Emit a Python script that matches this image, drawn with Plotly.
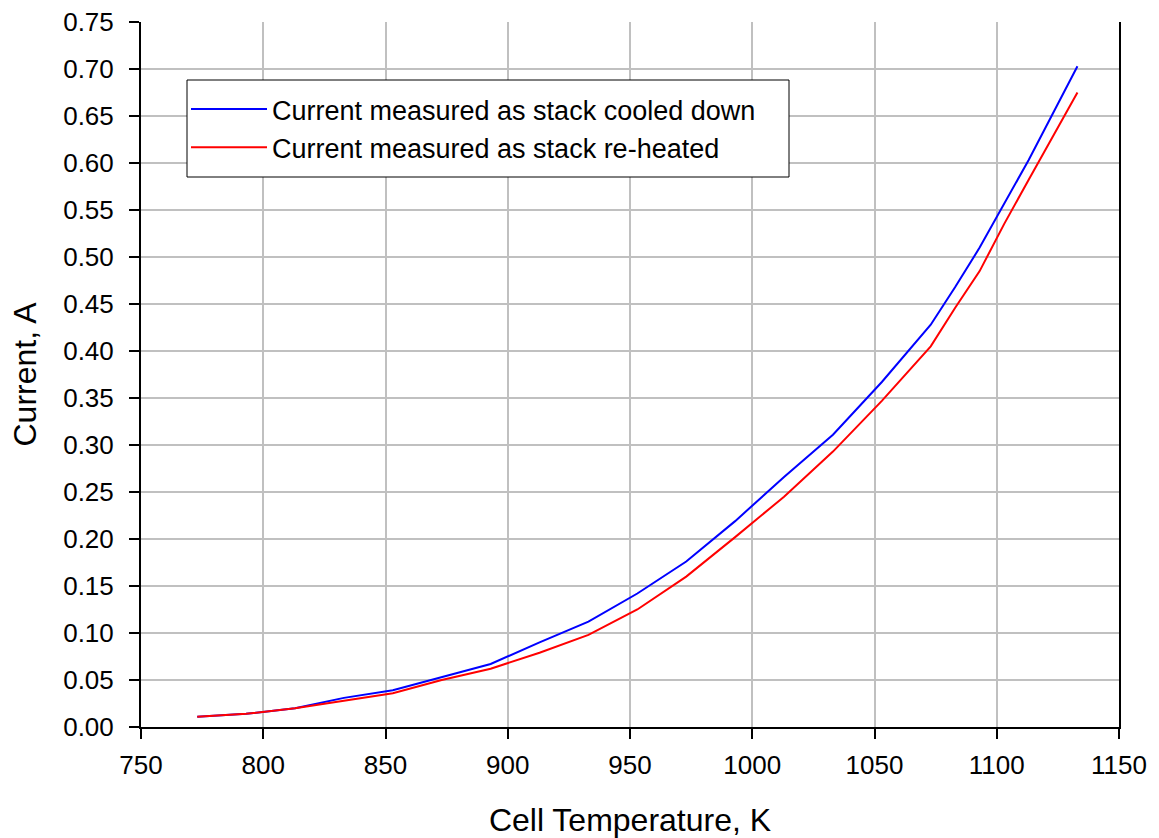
import plotly.graph_objects as go

temps = [773, 793, 813, 833, 853, 873, 893, 913, 933, 953, 973, 993, 1013, 1033,
         1053, 1073, 1083, 1093, 1103, 1113, 1133]
cooled = [0.011, 0.014, 0.020, 0.031, 0.039, 0.053, 0.067, 0.090, 0.112, 0.142,
          0.176, 0.219, 0.266, 0.311, 0.367, 0.428, 0.468, 0.510, 0.556, 0.603, 0.703]
reheated = [0.011, 0.014, 0.020, 0.028, 0.036, 0.050, 0.062, 0.079, 0.098, 0.125,
            0.160, 0.202, 0.245, 0.293, 0.347, 0.405, 0.446, 0.485, 0.535, 0.582, 0.675]

font = "Liberation Sans, Arial, sans-serif"
fig = go.Figure()
fig.add_trace(go.Scatter(x=temps, y=cooled, mode="lines", line=dict(color="#0000ff", width=2),
                         name="Current measured as stack cooled down"))
fig.add_trace(go.Scatter(x=temps, y=reheated, mode="lines", line=dict(color="#ff0000", width=2),
                         name="Current measured as stack re-heated"))

# legend frame (white box with thin black border, hides gridlines behind)
fig.add_shape(type="rect", xref="paper", yref="paper",
              x0=(187 - 141) / 978, x1=(789 - 141) / 978,
              y0=(727 - 177) / 705, y1=(727 - 80) / 705,
              line=dict(color="black", width=1), fillcolor="white", layer="above")

fig.update_layout(
    width=1159, height=838,
    margin=dict(l=141, r=40, t=22, b=111),
    paper_bgcolor="white", plot_bgcolor="white",
    font=dict(family=font, size=26, color="black"),
    showlegend=True,
    legend=dict(x=(186 - 141) / 978, y=(727 - 85) / 705, xanchor="left", yanchor="top",
                borderwidth=0, bgcolor="rgba(0,0,0,0)",
                font=dict(size=27), itemwidth=76,
                tracegroupgap=0),
)
fig.update_xaxes(range=[750, 1150], dtick=50, tick0=750,
                 showgrid=True, gridcolor="#c0c0c0", gridwidth=2,
                 showline=True, linecolor="black", linewidth=2, mirror=False,
                 ticks="outside", ticklen=10, tickwidth=2, tickcolor="black",
                 ticklabelstandoff=4,
                 zeroline=False, automargin=False,
                 title=dict(text="Cell Temperature, K", font=dict(size=32), standoff=30))
fig.update_yaxes(range=[0, 0.75], dtick=0.05, tickformat=".2f",
                 showgrid=True, gridcolor="#c0c0c0", gridwidth=2,
                 showline=True, linecolor="black", linewidth=2, mirror=True,
                 ticks="outside", ticklen=10, tickwidth=2, tickcolor="black",
                 ticklabelstandoff=10,
                 zeroline=False, automargin=False,
                 title=dict(text="Current, A", font=dict(size=32), standoff=17))
fig.write_html("out.html")
